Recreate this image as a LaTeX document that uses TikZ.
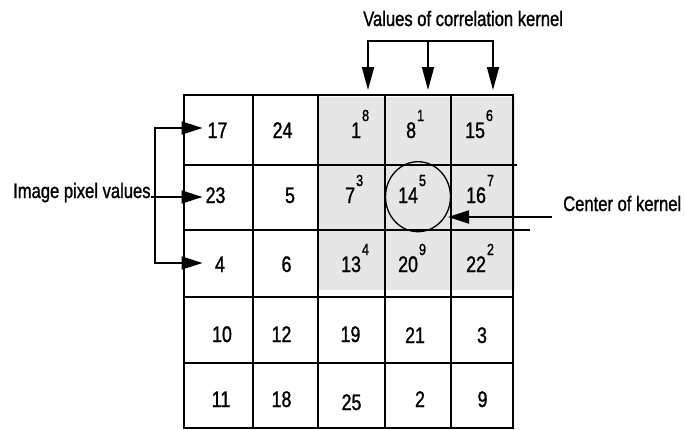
\documentclass[tikz,border=0pt]{standalone}
\usepackage{fontspec}
\setmainfont{Liberation Sans}[FakeStretch=0.79,FakeBold=1.2]
\usetikzlibrary{arrows.meta,shapes.geometric}
\definecolor{kgray}{HTML}{E6E6E6}
\newcommand{\kv}[2]{#1\kern1pt\raisebox{17pt}{\fontsize{16}{18}\selectfont #2}}
\begin{document}
\begin{tikzpicture}[x=1pt,y=-1pt,
  lab/.style={inner sep=0pt,anchor=base west,font=\fontsize{21}{25}\selectfont},
  num/.style={inner sep=0pt,anchor=base,font=\fontsize{22.5}{26}\selectfont},
  knum/.style={inner sep=0pt,anchor=base west,font=\fontsize{22.5}{26}\selectfont},
  gridline/.style={line width=2pt},
  conn/.style={line width=1.8pt},
  tipL/.style={-{Triangle[length=21pt,width=13pt]}},
  tipT/.style={-{Triangle[length=23pt,width=12pt]}},
  tipLL/.style={{Triangle[length=21pt,width=13pt]}-{Triangle[length=21pt,width=13pt]}},
  tipTT/.style={{Triangle[length=23pt,width=12pt]}-{Triangle[length=23pt,width=12pt]}}]
\useasboundingbox (0,0) rectangle (684,429);
% shaded kernel region
\fill[kgray] (318,97) rectangle (515,290);
% grid
\foreach \x in {184.3,253.3,318.3,385,451,513.3}
  \draw[gridline] (\x,95) -- (\x,427.5);
\foreach \y in {95,296.7,363.3,427.5}
  \draw[gridline] (183.3,\y) -- (514.3,\y);
\draw[gridline] (183.3,165) -- (517,165);
\draw[gridline] (183.3,230) -- (530,230);
% circle around center
\node[draw,line width=1.3pt,ellipse,minimum width=65pt,minimum height=70pt,inner sep=0pt] (cen) at (418,196.7) {};
% plain numbers
\node[num] (n11) at (217.5,138) {17};
\node[num] (n12) at (282.5,138) {24};
\node[num] (n21) at (215.5,203) {23};
\node[num] (n22) at (290,203) {5};
\node[num] (n31) at (220,272) {4};
\node[num] (n32) at (286.5,272) {6};
\node[num] (n41) at (222,342) {10};
\node[num] (n42) at (281.5,342) {12};
\node[num] (n43) at (350.5,342) {19};
\node[num] (n44) at (415,343) {21};
\node[num] (n45) at (482,343) {3};
\node[num] (n51) at (221,407) {11};
\node[num] (n52) at (281.5,407) {18};
\node[num] (n53) at (351.5,410) {25};
\node[num] (n54) at (420,407) {2};
\node[num] (n55) at (482.5,407) {9};
% kernel numbers
\node[knum] (k13) at (351,138) {\kv{1}{8}};
\node[knum] (k14) at (406,138) {\kv{8}{1}};
\node[knum] (k15) at (465,138) {\kv{15}{6}};
\node[knum] (k23) at (345,203) {\kv{7}{3}};
\node[knum] (k24) at (398,203) {\kv{14}{5}};
\node[knum] (k25) at (466,203) {\kv{16}{7}};
\node[knum] (k33) at (341,272) {\kv{13}{4}};
\node[knum] (k34) at (398,272) {\kv{20}{9}};
\node[knum] (k35) at (466,272) {\kv{22}{2}};
% labels
\node[lab] (title) at (363,26) {Values of correlation kernel};
\node[lab] (imglab) at (13,198) {Image pixel values};
\node[lab] (ctrlab) at (563,211) {Center of kernel};
% left bracket arrows
\coordinate (lb1) at (155,128);
\coordinate (lb3) at (155,263);
\coordinate (lb2) at (155,197);
\coordinate (t1) at (202.5,128);
\coordinate (t2) at (202.5,197);
\coordinate (t3) at (202.5,263);
\draw[conn,tipLL] (t1) -- (lb1) -- (lb3) -- (t3);
\draw[conn,tipL] (imglab.east |- lb2) -- (t2);
% top bracket arrows
\coordinate (kb1) at (368,41);
\coordinate (kb3) at (493,41);
\coordinate (kb2) at (428,42);
\coordinate (a1) at (368,90);
\coordinate (a2) at (428,90);
\coordinate (a3) at (493,90);
\draw[conn,tipTT] (a1) -- (kb1) -- (kb3) -- (a3);
\draw[conn,tipT] (kb2) -- (a2);
% center arrow
\coordinate (cs) at (552,217);
\coordinate (ce) at (448,217);
\draw[conn,tipL] (cs) -- (ce);
\end{tikzpicture}
\end{document}
